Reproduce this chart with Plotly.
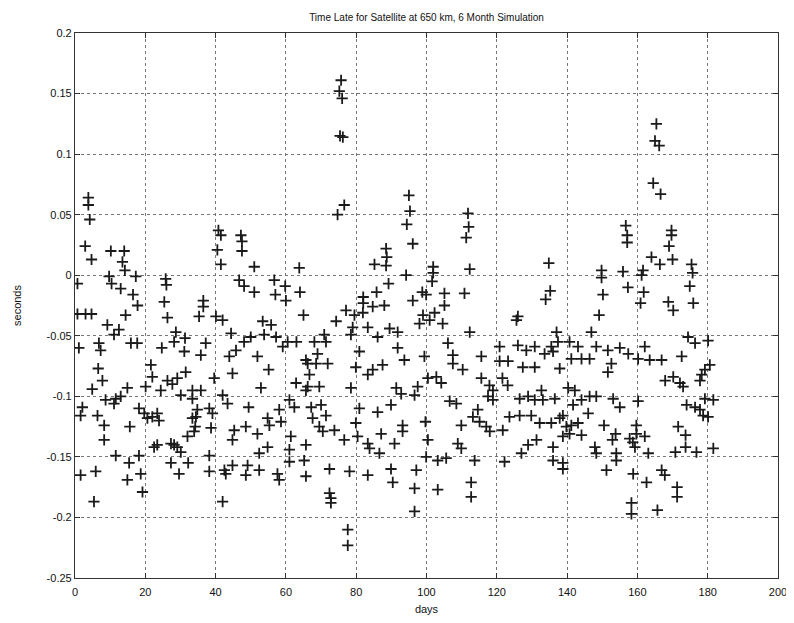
import plotly.graph_objects as go

# (day, seconds) pairs
points = [
    (3.8, 0.064), (3.8, 0.058), (4.2, 0.046), (2.9, 0.024), (4.7, 0.013), (0.7, -0.007),
    (0.7, -0.032), (3.0, -0.032), (4.7, -0.032), (10.2, 0.020), (14.0, 0.020), (13.5, 0.011),
    (14.2, 0.004), (9.7, -0.001), (10.4, -0.007), (13.0, -0.011), (17.3, -0.001), (16.5, -0.016),
    (17.8, -0.025), (14.4, -0.033), (25.8, -0.003), (26.0, -0.008), (25.4, -0.022), (26.3, -0.035),
    (36.5, -0.021), (36.5, -0.026), (35.3, -0.034), (40.1, -0.034), (40.8, 0.037), (41.5, 0.033),
    (40.5, 0.021), (41.5, 0.009), (47.2, 0.033), (47.5, 0.028), (47.5, 0.020), (46.7, -0.004),
    (48.1, -0.009), (51.0, -0.014), (51.0, 0.007), (56.7, -0.004), (57.0, -0.016), (59.8, -0.009),
    (60.0, -0.021), (63.8, 0.006), (64.0, -0.014), (65.0, -0.033),
    (75.7, 0.161), (75.2, 0.152), (76.0, 0.146), (76.2, 0.114), (75.4, 0.115), (76.6, 0.058),
    (74.7, 0.050), (95.0, 0.066), (95.3, 0.053), (94.4, 0.042), (96.1, 0.026), (88.5, 0.022),
    (88.7, 0.015), (85.2, 0.009), (88.5, 0.008), (89.2, -0.007), (94.2, 0.000), (85.8, -0.014),
    (82.0, -0.018), (82.0, -0.023), (84.7, -0.026), (88.0, -0.025), (77.1, -0.029), (79.5, -0.033),
    (81.9, -0.031), (101.9, 0.007), (101.9, 0.002), (101.6, -0.005), (98.8, -0.014), (99.9, -0.016),
    (96.1, -0.021), (105.1, -0.015), (105.1, -0.025), (99.0, -0.033), (102.3, -0.031), (111.8, 0.051),
    (112.0, 0.040), (111.3, 0.031), (112.3, 0.005), (110.8, -0.015), (126.0, -0.034),
    (165.4, 0.125), (165.0, 0.111), (166.2, 0.107), (164.5, 0.076), (166.6, 0.067), (156.7, 0.041),
    (157.1, 0.033), (157.1, 0.027), (169.7, 0.037), (169.7, 0.033), (169.0, 0.024), (170.0, 0.013),
    (164.0, 0.015), (166.4, 0.009), (175.4, 0.009), (175.7, 0.002), (174.9, -0.009), (175.9, -0.023),
    (161.6, 0.004), (161.2, 0.000), (161.8, -0.014), (160.9, -0.023), (155.9, 0.003), (157.3, -0.010),
    (149.8, 0.004), (149.8, -0.002), (150.2, -0.016), (149.1, -0.033), (134.8, 0.010), (135.2, -0.013),
    (133.9, -0.020), (168.8, -0.022), (170.2, -0.029),
    (42.0, -0.037), (9.2, -0.041), (12.5, -0.045), (11.1, -0.049), (1.1, -0.060), (6.8, -0.056),
    (7.3, -0.062), (15.9, -0.056), (17.7, -0.056), (24.7, -0.060), (28.7, -0.047), (28.2, -0.055),
    (31.3, -0.052), (31.1, -0.063), (37.2, -0.056), (35.8, -0.066), (44.4, -0.048), (48.1, -0.055),
    (50.0, -0.051), (45.8, -0.062), (43.9, -0.067), (53.8, -0.049), (53.4, -0.038), (55.8, -0.041),
    (57.2, -0.051), (60.5, -0.055), (63.0, -0.055), (59.1, -0.059), (51.9, -0.067), (6.6, -0.077),
    (7.8, -0.087), (21.6, -0.074), (22.0, -0.084), (20.1, -0.092), (26.3, -0.087), (29.1, -0.085),
    (27.7, -0.090), (31.5, -0.080), (24.4, -0.095), (39.6, -0.085), (44.8, -0.081), (55.1, -0.078),
    (52.9, -0.093), (4.9, -0.094), (14.9, -0.093), (8.7, -0.103), (11.6, -0.102), (13.0, -0.100),
    (11.1, -0.106), (2.1, -0.109), (1.6, -0.116), (6.4, -0.116), (8.3, -0.124), (8.3, -0.136),
    (15.6, -0.125), (18.2, -0.110), (19.7, -0.114), (20.6, -0.118), (22.0, -0.117), (23.4, -0.114),
    (23.9, -0.120), (30.1, -0.099), (33.4, -0.095), (35.8, -0.095), (33.4, -0.102), (34.8, -0.111),
    (33.4, -0.118), (34.4, -0.117), (38.2, -0.110), (39.1, -0.114), (34.2, -0.125), (33.9, -0.129),
    (32.0, -0.133), (42.0, -0.099), (43.4, -0.106), (38.7, -0.126), (45.3, -0.128), (44.8, -0.136),
    (48.6, -0.125), (49.4, -0.109), (51.9, -0.131), (54.8, -0.118), (55.3, -0.124), (58.1, -0.111),
    (58.6, -0.121), (61.0, -0.103), (62.4, -0.109), (62.9, -0.089), (66.2, -0.092), (65.7, -0.070),
    (61.4, -0.133), (61.0, -0.144), (61.0, -0.154), (65.7, -0.140), (65.7, -0.166), (54.8, -0.142),
    (52.4, -0.147), (52.4, -0.161), (49.1, -0.157), (48.6, -0.165), (44.8, -0.157), (42.5, -0.161),
    (42.9, -0.164), (42.0, -0.187), (38.2, -0.149), (38.2, -0.162), (57.6, -0.164), (58.1, -0.169),
    (32.2, -0.155), (27.3, -0.139), (28.2, -0.140), (29.1, -0.142), (30.1, -0.146), (27.3, -0.155),
    (29.6, -0.164), (23.4, -0.140), (22.5, -0.142), (18.2, -0.149), (18.7, -0.164), (19.2, -0.179),
    (15.4, -0.155), (14.9, -0.169), (11.6, -0.149), (5.9, -0.162), (5.4, -0.187), (1.6, -0.165),
    (100.9, -0.037), (104.6, -0.040), (98.0, -0.040), (125.6, -0.037), (74.3, -0.038), (79.0, -0.043),
    (78.5, -0.049), (83.3, -0.043), (86.1, -0.051), (89.5, -0.044), (91.8, -0.047), (91.8, -0.060),
    (93.7, -0.070), (99.4, -0.067), (80.9, -0.063), (79.9, -0.076), (83.3, -0.082), (84.7, -0.078),
    (87.5, -0.074), (78.5, -0.093), (91.4, -0.093), (92.8, -0.098), (97.5, -0.092), (96.6, -0.099),
    (100.4, -0.085), (102.8, -0.084), (104.2, -0.089), (107.5, -0.066), (107.5, -0.073), (110.3, -0.078),
    (106.1, -0.056), (112.3, -0.047), (115.6, -0.067), (120.8, -0.059), (120.8, -0.071), (123.2, -0.071),
    (126.0, -0.058), (128.4, -0.062), (130.8, -0.059), (127.4, -0.076), (130.8, -0.076), (115.6, -0.085),
    (117.9, -0.091), (118.9, -0.095), (121.6, -0.085), (123.1, -0.091), (117.5, -0.100), (118.9, -0.103),
    (126.5, -0.102), (128.9, -0.100), (67.2, -0.109), (70.0, -0.107), (71.4, -0.116), (67.6, -0.118),
    (69.5, -0.125), (70.5, -0.129), (73.8, -0.128), (76.6, -0.136), (80.9, -0.110), (79.9, -0.122),
    (80.4, -0.133), (83.3, -0.139), (83.8, -0.143), (86.1, -0.113), (89.9, -0.107), (87.1, -0.131),
    (86.6, -0.147), (90.9, -0.139), (93.2, -0.124), (93.2, -0.129), (99.7, -0.121), (100.4, -0.136),
    (99.9, -0.150), (103.2, -0.153), (105.6, -0.151), (106.6, -0.104), (108.5, -0.106), (109.9, -0.124),
    (108.9, -0.139), (109.9, -0.143), (113.7, -0.153), (112.7, -0.171), (112.7, -0.183), (113.2, -0.117),
    (115.1, -0.121), (117.0, -0.125), (118.0, -0.129), (114.6, -0.111), (121.7, -0.128), (123.6, -0.117),
    (126.5, -0.116), (129.8, -0.116), (127.0, -0.147), (128.9, -0.140), (131.3, -0.136), (122.2, -0.154),
    (65.2, -0.153), (72.4, -0.160), (72.4, -0.180), (72.8, -0.184), (72.8, -0.188), (78.1, -0.162),
    (83.3, -0.165), (89.9, -0.160), (90.4, -0.171), (96.6, -0.176), (97.1, -0.161), (96.6, -0.195),
    (103.2, -0.177), (77.6, -0.210), (77.6, -0.223), (68.1, -0.055), (70.9, -0.049), (71.4, -0.055),
    (69.0, -0.065), (66.2, -0.073), (68.6, -0.073), (71.9, -0.073), (66.7, -0.082), (65.7, -0.095),
    (69.5, -0.092),
    (137.0, -0.047), (137.4, -0.055), (146.9, -0.047), (133.6, -0.065), (135.5, -0.059), (136.0, -0.063),
    (140.7, -0.055), (141.2, -0.069), (143.1, -0.059), (144.1, -0.069), (146.4, -0.069), (148.3, -0.059),
    (151.6, -0.062), (137.9, -0.077), (152.6, -0.073), (151.6, -0.080), (155.0, -0.060), (157.4, -0.065),
    (160.2, -0.069), (163.5, -0.070), (166.9, -0.070), (162.1, -0.059), (172.6, -0.067), (174.4, -0.051),
    (176.4, -0.056), (180.1, -0.054), (180.6, -0.074), (179.2, -0.078), (178.3, -0.082), (177.8, -0.087),
    (167.9, -0.087), (170.2, -0.084), (172.1, -0.089), (173.0, -0.092), (174.0, -0.107), (176.4, -0.109),
    (177.8, -0.111), (178.7, -0.116), (180.1, -0.117), (179.2, -0.102), (181.6, -0.103), (130.8, -0.103),
    (132.7, -0.095), (133.1, -0.103), (136.5, -0.102), (140.3, -0.093), (142.2, -0.095), (141.7, -0.107),
    (144.1, -0.103), (146.4, -0.100), (148.3, -0.100), (153.1, -0.102), (155.0, -0.109), (160.2, -0.104),
    (159.7, -0.124), (132.2, -0.122), (135.5, -0.122), (138.8, -0.116), (139.8, -0.125), (141.2, -0.124),
    (143.1, -0.122), (146.0, -0.114), (137.9, -0.118), (138.8, -0.133), (140.7, -0.131), (144.1, -0.132),
    (136.0, -0.142), (136.0, -0.153), (138.8, -0.155), (138.8, -0.160), (150.5, -0.124), (153.8, -0.131),
    (152.9, -0.136), (157.8, -0.135), (158.7, -0.138), (159.3, -0.142), (159.7, -0.131), (162.1, -0.133),
    (147.9, -0.142), (148.3, -0.147), (154.0, -0.147), (154.0, -0.153), (151.2, -0.161), (163.1, -0.147),
    (158.8, -0.164), (162.6, -0.171), (166.9, -0.161), (167.8, -0.165), (170.8, -0.146), (173.7, -0.142),
    (173.7, -0.132), (171.6, -0.125), (176.8, -0.146), (181.6, -0.143), (171.3, -0.175), (171.3, -0.183),
    (158.3, -0.188), (158.3, -0.197), (165.7, -0.194),
]
days = [p[0] for p in points]
seconds = [p[1] for p in points]

x_ticks = [0, 20, 40, 60, 80, 100, 120, 140, 160, 180, 200]
y_ticks = [0.2, 0.15, 0.1, 0.05, 0, -0.05, -0.1, -0.15, -0.2, -0.25]
y_labels = ["0.2", "0.15", "0.1", "0.05", "0", "-0.05", "-0.1", "-0.15", "-0.2", "-0.25"]

fig = go.Figure()
fig.add_trace(go.Scatter(
    x=days, y=seconds, mode="markers",
    marker=dict(symbol="cross-thin", size=8, color="rgba(0,0,0,0)",
                line=dict(color="#1a1a1a", width=1.8)),
    showlegend=False, hoverinfo="x+y",
))

font_family = "Liberation Sans, Arial, sans-serif"
axis_common = dict(
    showgrid=True, gridcolor="#777777", griddash="dot", gridwidth=1,
    zeroline=False, showline=True, linecolor="#333333", linewidth=1.2, mirror="allticks",
    ticks="inside", ticklen=5, tickcolor="#333333", automargin=False,
    tickfont=dict(family=font_family, size=11, color="#111111"),
)

# The page body adds an 8 px offset; figure is sized to fit the 794x623 window.
fig.update_layout(
    width=786, height=615,
    paper_bgcolor="white", plot_bgcolor="white",
    margin=dict(l=67, r=16, t=25, b=45, autoexpand=False),
    title=dict(text="Time Late for Satellite at 650 km, 6 Month Simulation",
               x=0.5, xref="paper", y=1 - 9 / 615, yref="container", xanchor="center", yanchor="middle",
               font=dict(family=font_family, size=10, color="#111111"), automargin=False),
    xaxis=dict(range=[0, 200], tickvals=x_ticks, ticklabelstandoff=4,
               title=dict(text="days", font=dict(family=font_family, size=11, color="#111111"), standoff=8),
               **axis_common),
    yaxis=dict(range=[-0.25, 0.2], tickvals=y_ticks, ticktext=y_labels,
               title=dict(text="seconds", font=dict(family=font_family, size=11, color="#111111"), standoff=22),
               **axis_common),
)

fig.write_html("out.html")
